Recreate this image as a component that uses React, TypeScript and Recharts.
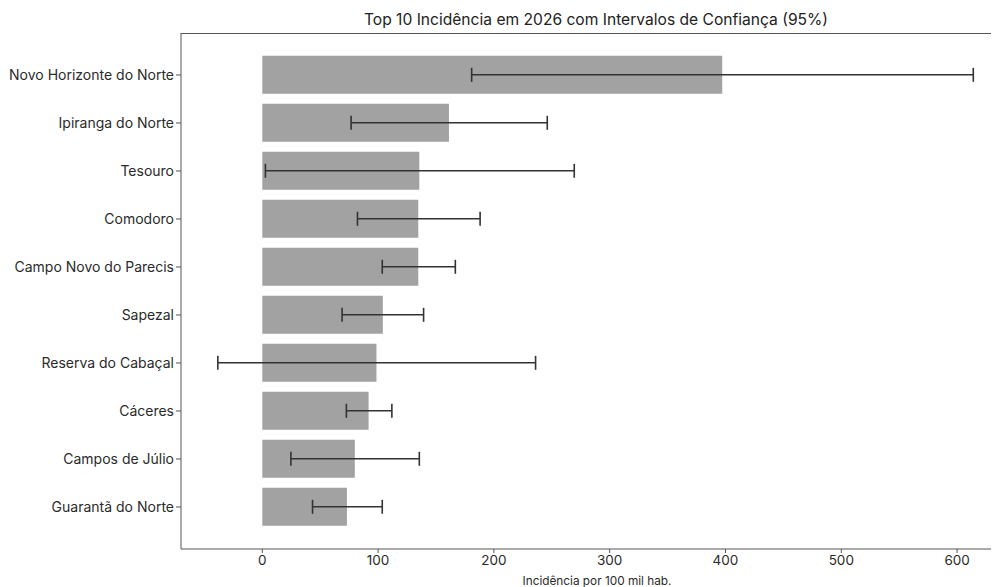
import React from "react";
import {
  BarChart,
  Bar,
  ErrorBar,
  XAxis,
  YAxis,
  Label,
} from "recharts";

const municipios = [
  "Novo Horizonte do Norte",
  "Ipiranga do Norte",
  "Tesouro",
  "Comodoro",
  "Campo Novo do Parecis",
  "Sapezal",
  "Reserva do Cabaçal",
  "Cáceres",
  "Campos de Júlio",
  "Guarantã do Norte",
];

const incidencia = [397.2, 161.2, 135.6, 134.7, 134.7, 104.1, 98.6, 91.8, 79.9, 73.1];
const icInferior = [180.8, 76.7, 2.7, 82.2, 103.6, 68.9, -38.4, 72.6, 24.7, 43.4];
const icSuperior = [614.0, 246.1, 269.4, 188.1, 166.7, 139.3, 236.0, 111.9, 135.6, 103.6];

const xTicks = [0, 100, 200, 300, 400, 500, 600];

const data = municipios.map((nome, i) => ({
  nome,
  valor: incidencia[i],
  erro: [incidencia[i] - icInferior[i], icSuperior[i] - incidencia[i]],
}));

const FONT = "Inter, Roboto, sans-serif";
const TEXT = "#2a2a2a";
const SPINE = "#555555";

export default function App() {
  return (
    <div style={{ position: "relative", width: 991, height: 579, fontFamily: FONT }}>
      <div
        style={{
          position: "absolute",
          top: 2,
          left: 588 - 300,
          width: 600,
          textAlign: "center",
          fontSize: 15.6,
          color: "#222",
          lineHeight: "20px",
        }}
      >
        Top 10 Incidência em 2026 com Intervalos de Confiança (95%)
      </div>
      {/* linha superior do quadro */}
      <div
        style={{
          position: "absolute",
          top: 24.5,
          left: 173,
          width: 818,
          height: 0,
          borderTop: `1px solid ${SPINE}`,
        }}
      />
      <BarChart
        width={991}
        height={579}
        data={data}
        layout="vertical"
        margin={{ top: 25, right: 0, bottom: 0, left: 0 }}
        barCategoryGap="10%"
      >
        <XAxis
          type="number"
          domain={[-70.2, 636.2]}
          ticks={xTicks}
          allowDataOverflow
          height={38}
          tick={{ fill: TEXT, fontSize: 13.5, fontFamily: FONT }}
          tickLine={{ stroke: SPINE }}
          tickSize={4}
          axisLine={{ stroke: SPINE, strokeWidth: 1 }}
        >
          <Label
            value="Incidência por 100 mil hab."
            position="insideBottom"
            offset={2}
            dx={7}
            style={{ fill: TEXT, fontSize: 11.8, fontFamily: FONT }}
          />
        </XAxis>
        <YAxis
          type="category"
          dataKey="nome"
          width={173}
          padding={{ top: 18, bottom: 18 }}
          tick={{ fill: TEXT, fontSize: 14, fontFamily: FONT }}
          tickLine={{ stroke: SPINE }}
          tickSize={5}
          axisLine={{ stroke: SPINE, strokeWidth: 1 }}
          interval={0}
        />
        <Bar dataKey="valor" fill="#a2a2a2" isAnimationActive={false}>
          <ErrorBar
            dataKey="erro"
            direction="x"
            width={7}
            stroke="#333333"
            strokeWidth={1.6}
            isAnimationActive={false}
          />
        </Bar>
      </BarChart>
    </div>
  );
}
